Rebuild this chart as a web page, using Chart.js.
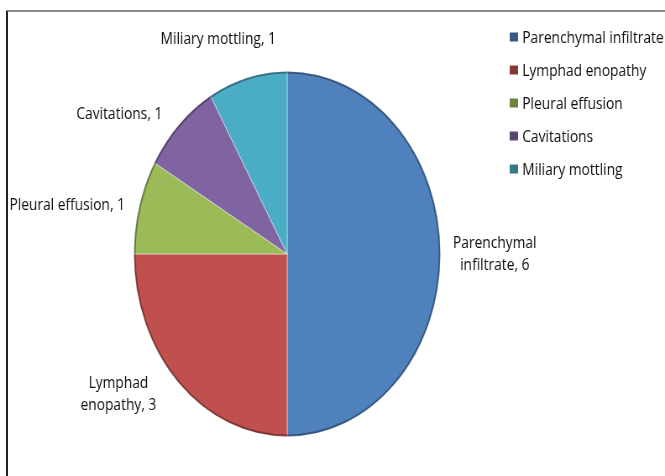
<!DOCTYPE html>
<html>
<head>
<meta charset="utf-8">
<script src="https://cdn.jsdelivr.net/npm/chart.js@4.4.1/dist/chart.umd.min.js"></script>
<style>
  html, body { margin: 0; padding: 0; background: #fff; }
  #wrap { position: relative; width: 665px; height: 476px; overflow: hidden; }
  #frame {
    position: absolute; left: 6px; top: 10px; right: -4px; bottom: -4px;
    border-top: 2px solid #8a8a8a; border-left: 2px solid #222;
    pointer-events: none;
  }
</style>
</head>
<body>
<div id="wrap">
  <!-- the original picture is squeezed sideways, so the canvas is drawn wider and shown at 665px -->
  <canvas id="pieChart" width="792" height="476" style="width:665px;height:476px"></canvas>
  <div id="frame"></div>
</div>
<script>
const categorias = ["Parenchymal infiltrate", "Lymphad enopathy", "Pleural effusion", "Cavitations", "Miliary mottling"];
const valores = [6, 3, 1, 1, 1];
const cores = ["#4f81bd", "#c0504d", "#9bbb59", "#8064a2", "#4bacc6"];

const FONTE = "16.4px 'Open Sans', sans-serif";

function escurecer(hex, f) {
  const n = parseInt(hex.slice(1), 16);
  const r = Math.round(((n >> 16) & 255) * f);
  const g = Math.round(((n >> 8) & 255) * f);
  const b = Math.round((n & 255) * f);
  return `rgb(${r},${g},${b})`;
}

// legenda desenhada no canto superior direito
const legendaPlugin = {
  id: "legendaLateral",
  afterDraw(chart) {
    const ctx = chart.ctx;
    ctx.save();
    ctx.font = FONTE;
    ctx.textBaseline = "middle";
    ctx.textAlign = "left";
    categorias.forEach((nome, i) => {
      const y = 37 + i * 33;
      ctx.fillStyle = escurecer(cores[i], 0.7);
      ctx.fillRect(607, y - 4.5, 10, 9);
      ctx.fillStyle = "#0d0d0d";
      ctx.fillText(nome, 622, y + 1);
    });
    ctx.restore();
  },
};

// rotulos fora da pizza; a direcao do meio da fatia e puxada para os lados
const rotulosPlugin = {
  id: "rotulosFora",
  afterDatasetsDraw(chart) {
    const ctx = chart.ctx;
    const meta = chart.getDatasetMeta(0);
    ctx.save();

    // leve sombra na borda externa
    const a0 = meta.data[0];
    ctx.beginPath();
    ctx.arc(a0.x, a0.y, a0.outerRadius - 1, 0, Math.PI * 2);
    ctx.strokeStyle = "rgba(0,0,0,0.35)";
    ctx.lineWidth = 2;
    ctx.stroke();

    ctx.font = FONTE;
    ctx.fillStyle = "#0d0d0d";
    ctx.textAlign = "center";
    ctx.textBaseline = "middle";
    const maxLargura = 150;
    const alturaLinha = 22;

    meta.data.forEach((arc, i) => {
      const texto = `${categorias[i]}, ${valores[i]}`;
      let linhas = [texto];
      if (ctx.measureText(texto).width > maxLargura) {
        const k = categorias[i].lastIndexOf(" ");
        linhas = [texto.slice(0, k), texto.slice(k + 1)];
      }
      const w = Math.max(...linhas.map((l) => ctx.measureText(l).width));
      const h = linhas.length === 1 ? 16 : alturaLinha * 2 - 6;
      const meio = (arc.startAngle + arc.endAngle) / 2;
      let ux = Math.cos(meio);
      let uy = Math.sin(meio) * 0.7;
      const n = Math.hypot(ux, uy);
      ux /= n;
      uy /= n;
      const ext = Math.abs(ux) * w / 2 + Math.abs(uy) * h / 2;
      const dist = arc.outerRadius + 15 + ext;
      const cx = arc.x + ux * dist;
      const cy = arc.y + uy * dist;
      const y0 = cy - ((linhas.length - 1) * alturaLinha) / 2;
      linhas.forEach((l, j) => ctx.fillText(l, cx, y0 + j * alturaLinha));
    });
    ctx.restore();
  },
};

new Chart(document.getElementById("pieChart"), {
  type: "pie",
  plugins: [rotulosPlugin, legendaPlugin],
  data: {
    labels: categorias,
    datasets: [
      {
        data: valores,
        backgroundColor: cores,
        borderColor: "rgba(255,255,255,0.45)",
        borderWidth: 1,
      },
    ],
  },
  options: {
    responsive: false,
    animation: false,
    layout: {
      padding: { left: 159, right: 267, top: 71, bottom: 39 },
    },
    plugins: {
      legend: { display: false },
      tooltip: { enabled: false },
    },
  },
});
</script>
</body>
</html>
